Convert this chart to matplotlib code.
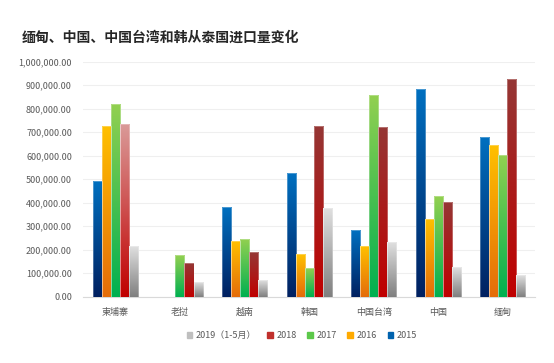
import numpy as np
import matplotlib.pyplot as plt
from matplotlib.colors import LinearSegmentedColormap
from matplotlib.patches import Patch

plt.rcParams['font.family'] = ['Noto Sans CJK SC', 'DejaVu Sans']

countries = ['柬埔寨', '老挝', '越南', '韩国', '中国台湾', '中国', '缅甸']
years = ['2015', '2016', '2017', '2018', '2019（1-5月）']
v2015 = [490000, 0, 380000, 525000, 284000, 885000, 678000]
v2016 = [725000, 0, 235000, 180000, 215000, 330000, 645000]
v2017 = [818000, 177000, 245000, 120000, 857000, 430000, 603000]
v2018 = [735000, 143000, 189000, 725000, 720000, 402000, 925000]
v2019 = [215000, 60000, 70000, 377000, 232000, 126000, 90000]
series = [v2015, v2016, v2017, v2018, v2019]

# (bottom colour, top colour)
grads = [('#002060', '#0070C0'),
         ('#E46C0A', '#FFC000'),
         ('#00B050', '#92D050'),
         ('#C00000', '#953735'),
         ('#7F7F7F', '#E0E0E0')]
leg_cols = ['#0062AE', '#FFAA00', '#5CC84A', '#C0302C', '#BFBFBF']

fig = plt.figure(figsize=(5.54, 3.63), dpi=100)
ax = fig.add_axes([0.150, 0.183, 0.816, 0.647])

x = np.arange(len(countries))
w = 0.14
grad = np.linspace(0, 1, 256).reshape(-1, 1)
for i, vals in enumerate(series):
    bars = ax.bar(x + (i - 2) * w, vals, w, color='none', zorder=3)
    for j, b in enumerate(bars):
        h = b.get_height()
        if h <= 0:
            continue
        c0, c1 = grads[i]
        if i == 3 and j == 0:
            c1 = '#DA9A98'
        cm = LinearSegmentedColormap.from_list('g', [c0, c1])
        ax.imshow(grad, cmap=cm, origin='lower', aspect='auto', zorder=3,
                  extent=(b.get_x(), b.get_x() + b.get_width(), 0, h))
        ax.add_patch(plt.Rectangle((b.get_x(), 0), b.get_width(), h, fill=False,
                                   edgecolor='white', alpha=0.35, lw=0.6, zorder=4))

ax.set_xlim(-0.5, len(countries) - 0.5)
ax.set_ylim(0, 1000000)
ax.set_yticks(np.arange(0, 1000001, 100000))
ax.set_yticklabels(['{:,.2f}'.format(t) for t in np.arange(0, 1000001, 100000)])
ax.set_xticks(x)
ax.set_xticklabels(countries)
ax.tick_params(length=0, labelsize=6.5, colors='#595959', pad=8)
ax.grid(axis='y', color='#EFEFEF', lw=0.8, zorder=0)
for s in ['top', 'right', 'left']:
    ax.spines[s].set_visible(False)
ax.spines['bottom'].set_color('#D9D9D9')

fig.text(0.04, 0.895, '缅甸、中国、中国台湾和韩从泰国进口量变化', fontsize=10,
         fontweight='bold', color='#262626', va='center')

handles = [Patch(color=leg_cols[i], label=years[i]) for i in range(4, -1, -1)]
fig.legend(handles=handles, loc='center', bbox_to_anchor=(0.545, 0.075), ncol=5,
           frameon=False, fontsize=6.5, handlelength=0.6, handleheight=0.6,
           columnspacing=1.2, handletextpad=0.4, labelcolor='#595959')

fig.savefig('out.png', dpi=100)
